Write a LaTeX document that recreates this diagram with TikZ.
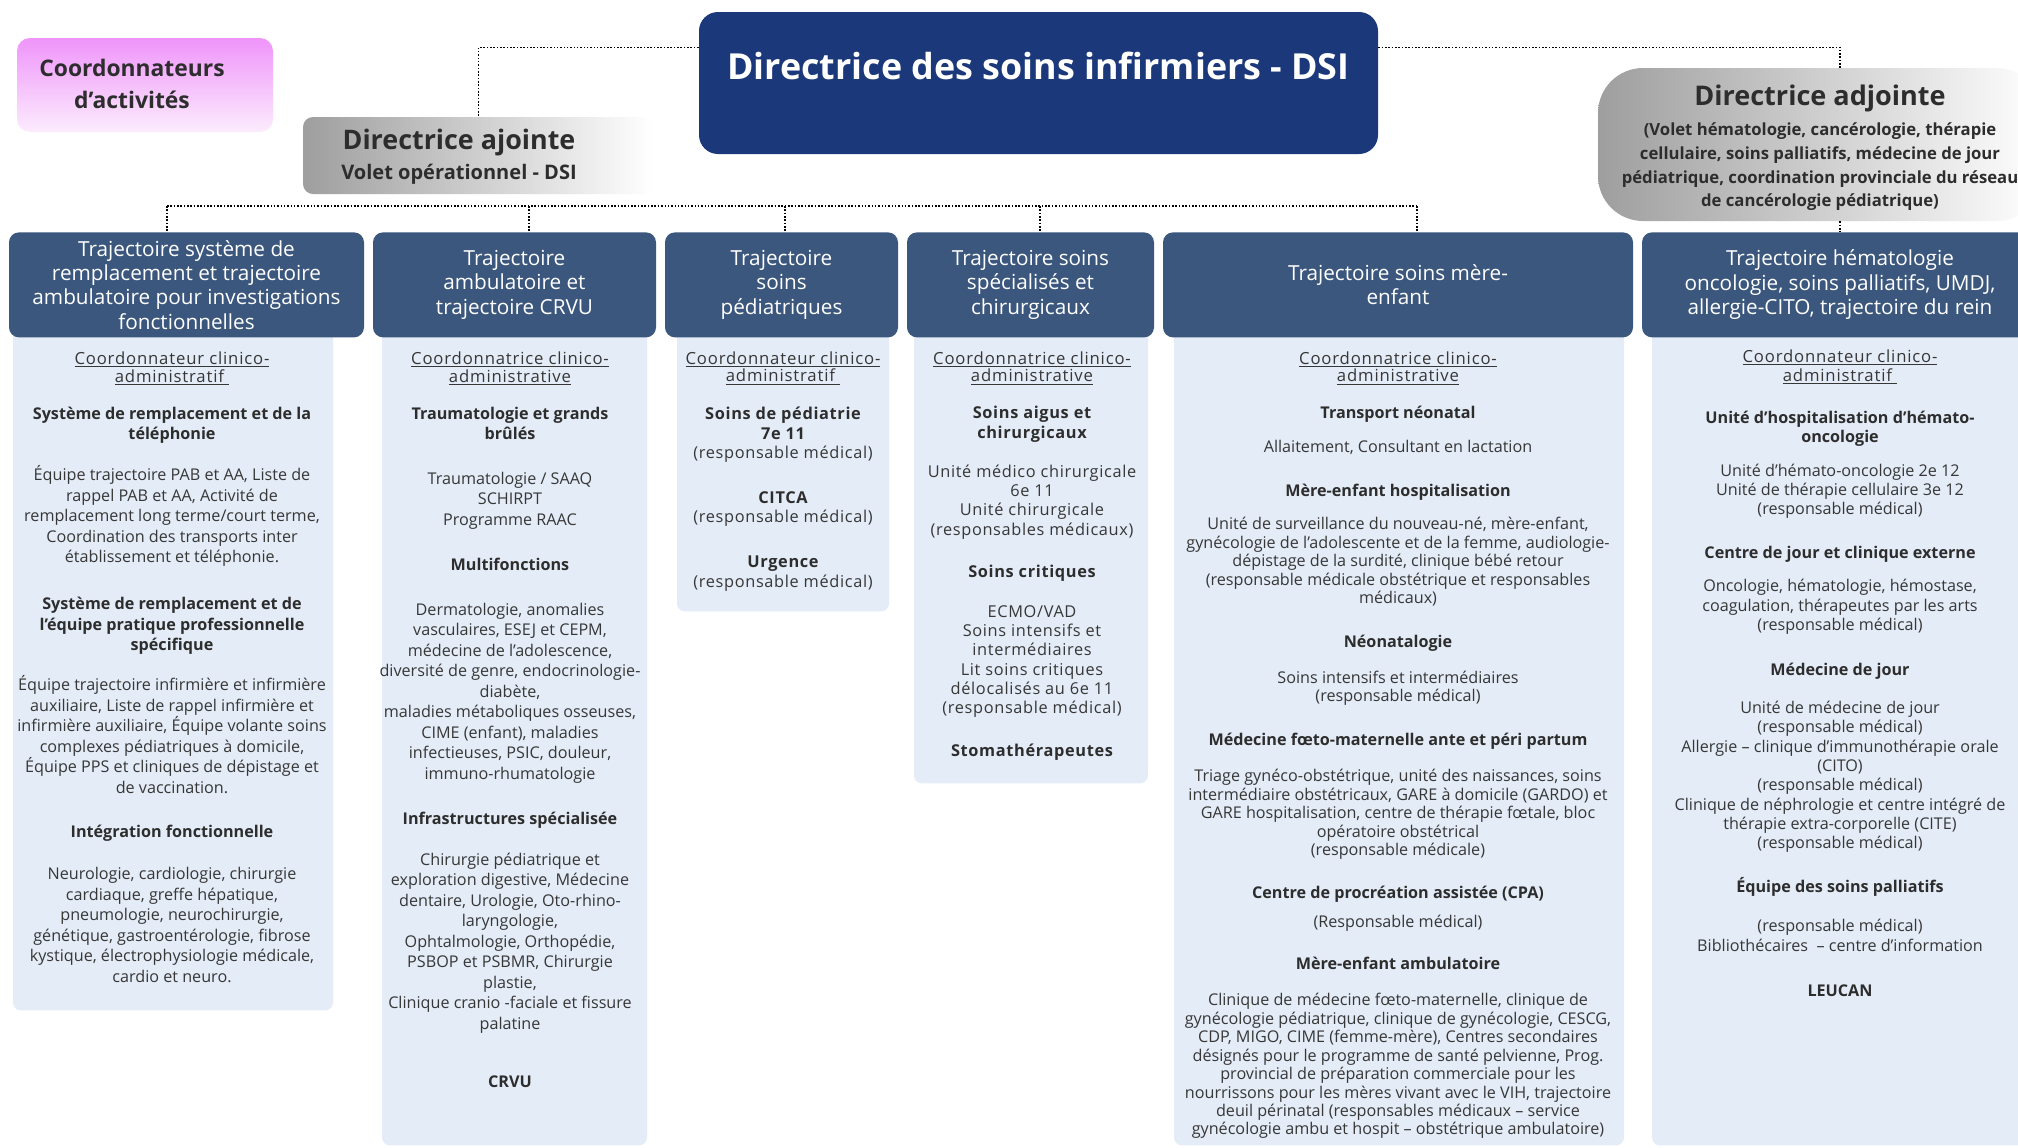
\documentclass[tikz,border=0pt]{standalone}
\usepackage{fontspec}
\setmainfont{Open Sans}
\usetikzlibrary{calc,positioning}

\definecolor{dsibleu}{RGB}{27,57,122}
\definecolor{entetebleu}{RGB}{59,87,125}
\definecolor{panneaubleu}{RGB}{228,236,247}
\definecolor{textegris}{RGB}{55,55,55}
\definecolor{titregris}{RGB}{45,45,45}
\definecolor{rosefonce}{RGB}{239,148,250}
\definecolor{roseclair}{RGB}{252,236,253}

\newdimen\unitpx
\unitpx=0.2mm

\newcommand{\rubrique}[1]{{\bfseries\color{titregris}#1}}
\newcommand{\souligne}[1]{{\fontsize{9.5}{10}\selectfont\addfontfeatures{LetterSpace=5}\underline{#1}}}

\tikzset{
  lien/.style={densely dotted, line width=0.9pt},
  entete/.style={fill=entetebleu, rounded corners=2mm, text=white, align=center,
    anchor=north, minimum height=105\unitpx, inner sep=0pt,
    font=\fontsize{11.8}{13.9}\selectfont},
  panneau/.style={fill=panneaubleu, rounded corners=1.6mm, anchor=north, inner sep=0pt},
  corps/.style={align=center, anchor=north, inner sep=0pt, text=textegris,
    font=\fontsize{9.2}{11.66}\selectfont},
  large/.style={font=\fontsize{9.3}{11}\selectfont\addfontfeatures{LetterSpace=4}},
  grisbox/.style={left color=black!38, right color=white, inner sep=0pt},
}

\begin{document}
\begin{tikzpicture}[x=0.2mm, y=-0.2mm]
  \fill[white] (0,0) rectangle (2018,1147);
  \useasboundingbox (0,0) rectangle (2018,1147);

  % --------
  % Direction
  % --------
  \node[fill=dsibleu, rounded corners=3.8mm, minimum width=679\unitpx, minimum height=142\unitpx] at (1038.5,83) (dsi) {};
  \node[text=white, font=\bfseries\fontsize{20.4}{24}\selectfont] at ($(dsi.center)+(0,-17)$) (dsititre) {Directrice des soins infirmiers - DSI};

  \node[top color=rosefonce, bottom color=roseclair, rounded corners=2.6mm, minimum width=256\unitpx, minimum height=94\unitpx] at (145,85) (coord) {};
  \node[align=center, text=titregris, font=\bfseries\fontsize{13}{18.3}\selectfont] at (132,84) (coordtexte) {Coordonnateurs\\d’activités};

  \node[grisbox, rounded corners=2mm, minimum width=351\unitpx, minimum height=77\unitpx] at (478.5,155.5) (dja) {};
  \node[align=center, text=titregris, font=\bfseries\fontsize{11.4}{17.4}\selectfont] at (459,156.5) (djatexte) {{\fontsize{15.3}{17}\selectfont Directrice ajointe}\\Volet opérationnel - DSI};

  \node[grisbox, rounded corners=9mm, minimum width=444\unitpx, minimum height=153\unitpx] at (1820,144.5) (dra) {};
  \node[align=center, text=titregris, font=\bfseries\fontsize{9.5}{13.5}\selectfont] at (1820,148) (dratexte) {{\fontsize{15.4}{17}\selectfont Directrice adjointe}\\[3.5pt](Volet hématologie, cancérologie, thérapie\\cellulaire, soins palliatifs, médecine de jour\\pédiatrique, coordination provinciale du réseau\\de cancérologie pédiatrique)};

  % --------
  % Trajectoires
  % --------
  \node[panneau, minimum width=320\unitpx, minimum height=690\unitpx] at (173,320) (p1) {};
  \node[panneau, minimum width=265\unitpx, minimum height=825\unitpx] at (514.5,320) (p2) {};
  \node[panneau, minimum width=212\unitpx, minimum height=291\unitpx] at (783,320) (p3) {};
  \node[panneau, minimum width=234\unitpx, minimum height=463\unitpx] at (1031,320) (p4) {};
  \node[panneau, minimum width=450\unitpx, minimum height=825\unitpx] at (1399,320) (p5) {};
  \node[panneau, minimum width=376\unitpx, minimum height=825\unitpx] at (1840,320) (p6) {};

  \node[entete, minimum width=355\unitpx] at (186.5,232) (t1) {Trajectoire système de\\remplacement et trajectoire\\ambulatoire pour investigations\\fonctionnelles};
  \node[entete, minimum width=283\unitpx] at (514.5,232) (t2) {Trajectoire\\ambulatoire et\\trajectoire CRVU};
  \node[entete, minimum width=233\unitpx] at (781.5,232) (t3) {Trajectoire\\soins\\pédiatriques};
  \node[entete, minimum width=247\unitpx] at (1030.5,232) (t4) {Trajectoire soins\\spécialisés et\\chirurgicaux};
  \node[entete, minimum width=470\unitpx] at (1398,232) (t5) {Trajectoire soins mère-\\enfant};
  \node[entete, minimum width=396\unitpx] at (1840,232) (t6) {Trajectoire hématologie\\oncologie, soins palliatifs, UMDJ,\\allergie-CITO, trajectoire du rein};

  \node[corps] at (172,351) (c1) {%
    \souligne{Coordonnateur clinico-}\\[-1.4pt]\souligne{administratif\ }\\[9.4pt]%
    \rubrique{Système de remplacement et de la}\\\rubrique{téléphonie}\\[11.7pt]%
    Équipe trajectoire PAB et AA, Liste de\\rappel PAB et AA, Activité de\\remplacement long terme/court terme,\\Coordination des transports inter\\établissement et téléphonie.\\[15.1pt]%
    \rubrique{Système de remplacement et de}\\\rubrique{l'équipe pratique professionnelle}\\\rubrique{spécifique}\\[11.1pt]%
    Équipe trajectoire infirmière et infirmière\\auxiliaire, Liste de rappel infirmière et\\infirmière auxiliaire, Équipe volante soins\\complexes pédiatriques à domicile,\\Équipe PPS et cliniques de dépistage et\\de vaccination.\\[13.9pt]%
    \rubrique{Intégration fonctionnelle}\\[12.2pt]%
    Neurologie, cardiologie, chirurgie\\cardiaque, greffe hépatique,\\pneumologie, neurochirurgie,\\génétique, gastroentérologie, fibrose\\kystique, électrophysiologie médicale,\\cardio et neuro.};

  \node[corps] at (510,351) (c2) {%
    \souligne{Coordonnatrice clinico-}\\[-1.4pt]\souligne{administrative}\\[9.4pt]%
    \rubrique{Traumatologie et grands}\\\rubrique{brûlés}\\[13.9pt]%
    Traumatologie / SAAQ\\SCHIRPT\\Programme RAAC\\[13.9pt]%
    \rubrique{Multifonctions}\\[13.9pt]%
    Dermatologie, anomalies\\vasculaires, ESEJ et CEPM,\\médecine de l’adolescence,\\diversité de genre, endocrinologie-\\diabète,\\maladies métaboliques osseuses,\\CIME (enfant), maladies\\infectieuses, PSIC, douleur,\\immuno-rhumatologie\\[13.9pt]%
    \rubrique{Infrastructures spécialisée}\\[11.7pt]%
    Chirurgie pédiatrique et\\exploration digestive, Médecine\\dentaire, Urologie, Oto-rhino-\\laryngologie,\\Ophtalmologie, Orthopédie,\\PSBOP et PSBMR, Chirurgie\\plastie,\\Clinique cranio -faciale et fissure\\palatine\\[21.3pt]%
    \rubrique{CRVU}};

  \node[corps, large] at (783,351) (c3) {%
    \souligne{Coordonnateur clinico-}\\[-0.8pt]\souligne{administratif\ }\\[10.6pt]%
    \rubrique{Soins de pédiatrie}\\\rubrique{7e 11}\\%
    (responsable médical)\\[14.6pt]%
    \rubrique{CITCA}\\(responsable médical)\\[14.6pt]%
    \rubrique{Urgence}\\(responsable médical)};

  \node[corps, large] at (1032,351) (c4) {%
    \souligne{Coordonnatrice clinico-}\\[-0.8pt]\souligne{administrative}\\[10pt]%
    \rubrique{Soins aigus et}\\\rubrique{chirurgicaux}\\[11.2pt]%
    Unité médico chirurgicale\\6e 11\\Unité chirurgicale\\(responsables médicaux)\\[12.9pt]%
    \rubrique{Soins critiques}\\[11.8pt]%
    ECMO/VAD\\Soins intensifs et\\intermédiaires\\Lit soins critiques\\délocalisés au 6e 11\\(responsable médical)\\[13.5pt]%
    \rubrique{Stomathérapeutes}};

  \node[corps, font=\fontsize{9.2}{10.5}\selectfont] at (1398,351) (c5) {%
    \souligne{Coordonnatrice clinico-}\\[-0.3pt]\souligne{administrative}\\[10.5pt]%
    \rubrique{Transport néonatal}\\[8.8pt]%
    Allaitement, Consultant en lactation\\[14.5pt]%
    \rubrique{Mère-enfant hospitalisation}\\[8.3pt]%
    Unité de surveillance du nouveau-né, mère-enfant,\\gynécologie de l’adolescente et de la femme, audiologie-\\dépistage de la surdité, clinique bébé retour\\(responsable médicale obstétrique et responsables\\médicaux)\\[14.5pt]%
    \rubrique{Néonatalogie}\\[10pt]%
    Soins intensifs et intermédiaires\\(responsable médical)\\[14pt]%
    \rubrique{Médecine fœto-maternelle ante et péri partum}\\[10.5pt]%
    Triage gynéco-obstétrique, unité des naissances, soins\\intermédiaire obstétricaux, GARE à domicile (GARDO) et\\GARE hospitalisation, centre de thérapie fœtale, bloc\\opératoire obstétrical\\(responsable médicale)\\[14pt]%
    \rubrique{Centre de procréation assistée (CPA)}\\[6pt]%
    (Responsable médical)\\[13.4pt]%
    \rubrique{Mère-enfant ambulatoire}\\[10pt]%
    Clinique de médecine fœto-maternelle, clinique de\\gynécologie pédiatrique, clinique de gynécologie, CESCG,\\CDP, MIGO, CIME (femme-mère), Centres secondaires\\désignés pour le programme de santé pelvienne, Prog.\\provincial de préparation commerciale pour les\\nourrissons pour les mères vivant avec le VIH, trajectoire\\deuil périnatal (responsables médicaux -- service\\gynécologie ambu et hospit -- obstétrique ambulatoire)};

  \node[corps, font=\fontsize{9.2}{11}\selectfont] at (1840,349) (c6) {%
    \souligne{Coordonnateur clinico-}\\[-0.2pt]\souligne{administratif\ }\\[12.9pt]%
    \rubrique{Unité d’hospitalisation d’hémato-}\\\rubrique{oncologie}\\[8.3pt]%
    Unité d’hémato-oncologie 2e 12\\Unité de thérapie cellulaire 3e 12\\(responsable médical)\\[14pt]%
    \rubrique{Centre de jour et clinique externe}\\[7.8pt]%
    Oncologie, hématologie, hémostase,\\coagulation, thérapeutes par les arts\\(responsable médical)\\[14.6pt]%
    \rubrique{Médecine de jour}\\[10.6pt]%
    Unité de médecine de jour\\(responsable médical)\\Allergie -- clinique d’immunothérapie orale\\(CITO)\\(responsable médical)\\Clinique de néphrologie et centre intégré de\\thérapie extra-corporelle (CITE)\\(responsable médical)\\[14pt]%
    \rubrique{Équipe des soins palliatifs}\\[11.2pt]%
    (responsable médical)\\Bibliothécaires~~-- centre d’information\\[14.6pt]%
    \rubrique{LEUCAN}};

  % Draw line
  \coordinate (bus1) at (167,206);
  \coordinate (bus2) at (529,206);
  \coordinate (bus3) at (785,206);
  \coordinate (bus4) at (1040,206);
  \coordinate (bus5) at (1417,206);
  \draw[lien] (bus1) -- (bus5);
  \foreach \i in {1,...,5}
    \draw[lien] (bus\i) -- (bus\i |- t\i.north);

  \draw[lien] ($(dsi.north west)!0.25!(dsi.south west)$) -| (dja.north);
  \draw[lien] ($(dsi.north east)!0.25!(dsi.south east)$) -| (dra.north -| t6.north);
  \draw[lien] (dra.south -| t6.north) -- (t6.north);
\end{tikzpicture}
\end{document}
